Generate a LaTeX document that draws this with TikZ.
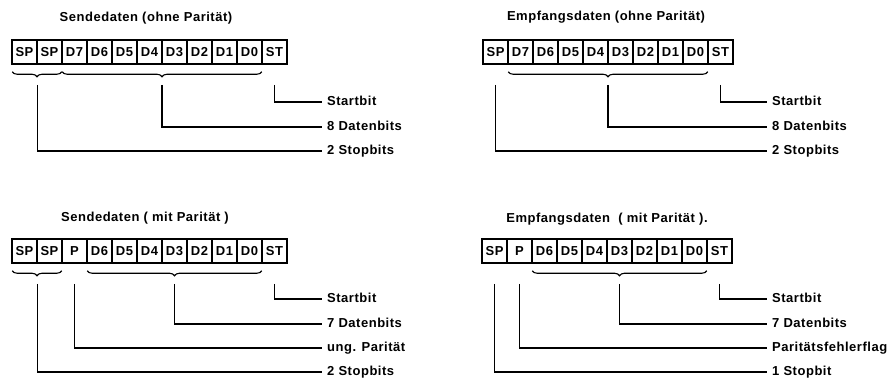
\documentclass[tikz,border=0pt]{standalone}
\usepackage{fontspec}
\setmainfont{Liberation Sans}[LetterSpace=4]
\usetikzlibrary{calc, decorations.pathreplacing}
\tikzset{
  cell/.style={rectangle, draw=black, line width=1.5pt, minimum width=25pt,
    minimum height=24pt, inner sep=0pt, font=\bfseries\fontsize{13}{15}\selectfont},
  hdr/.style={inner sep=0pt, font=\bfseries\fontsize{13}{15}\selectfont},
  lbl/.style={anchor=west, inner xsep=5pt, inner ysep=0pt, text height=9.5pt,
    text depth=2.5pt, font=\bfseries\fontsize{13}{15}\selectfont},
  brc/.style={decorate, decoration={brace, mirror, amplitude=5pt}, line width=1.1pt},
  conn/.style={line width=1.3pt}
}

\begin{document}
\begin{tikzpicture}[x=1pt, y=-1pt]
  \useasboundingbox (0,0) rectangle (895,383);

  % Sendedaten (ohne Paritaet)
  \node[hdr] (ta) at (146,18) {Sendedaten (ohne Parität)};
  \node[cell] (a1) at (24.5,52) {SP};
  \node[cell] (a2) at (49.5,52) {SP};
  \node[cell] (a3) at (74.5,52) {D7};
  \node[cell] (a4) at (99.5,52) {D6};
  \node[cell] (a5) at (124.5,52) {D5};
  \node[cell] (a6) at (149.5,52) {D4};
  \node[cell] (a7) at (174.5,52) {D3};
  \node[cell] (a8) at (199.5,52) {D2};
  \node[cell] (a9) at (224.5,52) {D1};
  \node[cell] (a10) at (249.5,52) {D0};
  \node[cell] (a11) at (274.5,52) {ST};

  \draw[brc] ($(a1.south west)+(1,7)$) -- ($(a2.south east)+(-1,7)$);
  \draw[brc] ($(a3.south west)+(1,7)$) -- ($(a10.south east)+(-1,7)$);
  \coordinate (asp) at ($(a1.south east)+(0,20)$);
  \coordinate (adat) at ($(a3.south west)!0.5!(a10.south east)+(0,20)$);
  \coordinate (ast) at ($(a11.south)+(0,20)$);

  \node[lbl] (astart) at (322,102) {Startbit};
  \node[lbl] (adaten) at (322,127) {8 Datenbits};
  \node[lbl] (astop) at (322,151) {2 Stopbits};
  \draw[conn] (ast) |- (astart.west);
  \draw[conn] (adat) |- (adaten.west);
  \draw[conn] (asp) |- (astop.west);

  % Empfangsdaten (ohne Paritaet)
  \node[hdr] (tb) at (606,17) {Empfangsdaten (ohne Parität)};
  \node[cell] (b1) at (495.5,52) {SP};
  \node[cell] (b2) at (520.5,52) {D7};
  \node[cell] (b3) at (545.5,52) {D6};
  \node[cell] (b4) at (570.5,52) {D5};
  \node[cell] (b5) at (595.5,52) {D4};
  \node[cell] (b6) at (620.5,52) {D3};
  \node[cell] (b7) at (645.5,52) {D2};
  \node[cell] (b8) at (670.5,52) {D1};
  \node[cell] (b9) at (695.5,52) {D0};
  \node[cell] (b10) at (720.5,52) {ST};

  \draw[brc] ($(b2.south west)+(1,7)$) -- ($(b9.south east)+(-1,7)$);
  \coordinate (bsp) at ($(b1.south)+(0,20)$);
  \coordinate (bdat) at ($(b2.south west)!0.5!(b9.south east)+(0,20)$);
  \coordinate (bst) at ($(b10.south)+(0,20)$);

  \node[lbl] (bstart) at (767,102) {Startbit};
  \node[lbl] (bdaten) at (767,127) {8 Datenbits};
  \node[lbl] (bstop) at (767,151) {2 Stopbits};
  \draw[conn] (bst) |- (bstart.west);
  \draw[conn] (bdat) |- (bdaten.west);
  \draw[conn] (bsp) |- (bstop.west);

  % Sendedaten (mit Paritaet)
  \node[hdr] (tc) at (145,218) {Sendedaten ( mit Parität )};
  \node[cell] (c1) at (24.5,251) {SP};
  \node[cell] (c2) at (49.5,251) {SP};
  \node[cell] (c3) at (74.5,251) {P};
  \node[cell] (c4) at (99.5,251) {D6};
  \node[cell] (c5) at (124.5,251) {D5};
  \node[cell] (c6) at (149.5,251) {D4};
  \node[cell] (c7) at (174.5,251) {D3};
  \node[cell] (c8) at (199.5,251) {D2};
  \node[cell] (c9) at (224.5,251) {D1};
  \node[cell] (c10) at (249.5,251) {D0};
  \node[cell] (c11) at (274.5,251) {ST};

  \draw[brc] ($(c1.south west)+(1,7)$) -- ($(c2.south east)+(-1,7)$);
  \draw[brc] ($(c4.south west)+(1,7)$) -- ($(c10.south east)+(-1,7)$);
  \coordinate (csp) at ($(c1.south east)+(0,20)$);
  \coordinate (cpar) at ($(c3.south)+(0,20)$);
  \coordinate (cdat) at ($(c4.south west)!0.5!(c10.south east)+(0,20)$);
  \coordinate (cst) at ($(c11.south)+(0,20)$);

  \node[lbl] (cstart) at (322,299) {Startbit};
  \node[lbl] (cdaten) at (322,324) {7 Datenbits};
  \node[lbl] (cparit) at (322,348) {ung. Parität};
  \node[lbl] (cstop) at (322,372) {2 Stopbits};
  \draw[conn] (cst) |- (cstart.west);
  \draw[conn] (cdat) |- (cdaten.west);
  \draw[conn] (cpar) |- (cparit.west);
  \draw[conn] (csp) |- (cstop.west);

  % Empfangsdaten (mit Paritaet)
  \node[hdr] (td) at (607,219) {Empfangsdaten\ \ ( mit Parität ).};
  \node[cell] (d1) at (494.5,251) {SP};
  \node[cell] (d2) at (519.5,251) {P};
  \node[cell] (d3) at (544.5,251) {D6};
  \node[cell] (d4) at (569.5,251) {D5};
  \node[cell] (d5) at (594.5,251) {D4};
  \node[cell] (d6) at (619.5,251) {D3};
  \node[cell] (d7) at (644.5,251) {D2};
  \node[cell] (d8) at (669.5,251) {D1};
  \node[cell] (d9) at (694.5,251) {D0};
  \node[cell] (d10) at (719.5,251) {ST};

  \draw[brc] ($(d3.south west)+(1,7)$) -- ($(d9.south east)+(-1,7)$);
  \coordinate (dsp) at ($(d1.south)+(0,20)$);
  \coordinate (dpar) at ($(d2.south)+(0,20)$);
  \coordinate (ddat) at ($(d3.south west)!0.5!(d9.south east)+(0,20)$);
  \coordinate (dst) at ($(d10.south)+(0,20)$);

  \node[lbl] (dstart) at (767,299) {Startbit};
  \node[lbl] (ddaten) at (767,324) {7 Datenbits};
  \node[lbl] (dflag) at (767,348) {Paritätsfehlerflag};
  \node[lbl] (dstop) at (767,372) {1 Stopbit};
  \draw[conn] (dst) |- (dstart.west);
  \draw[conn] (ddat) |- (ddaten.west);
  \draw[conn] (dpar) |- (dflag.west);
  \draw[conn] (dsp) |- (dstop.west);

\end{tikzpicture}
\end{document}
